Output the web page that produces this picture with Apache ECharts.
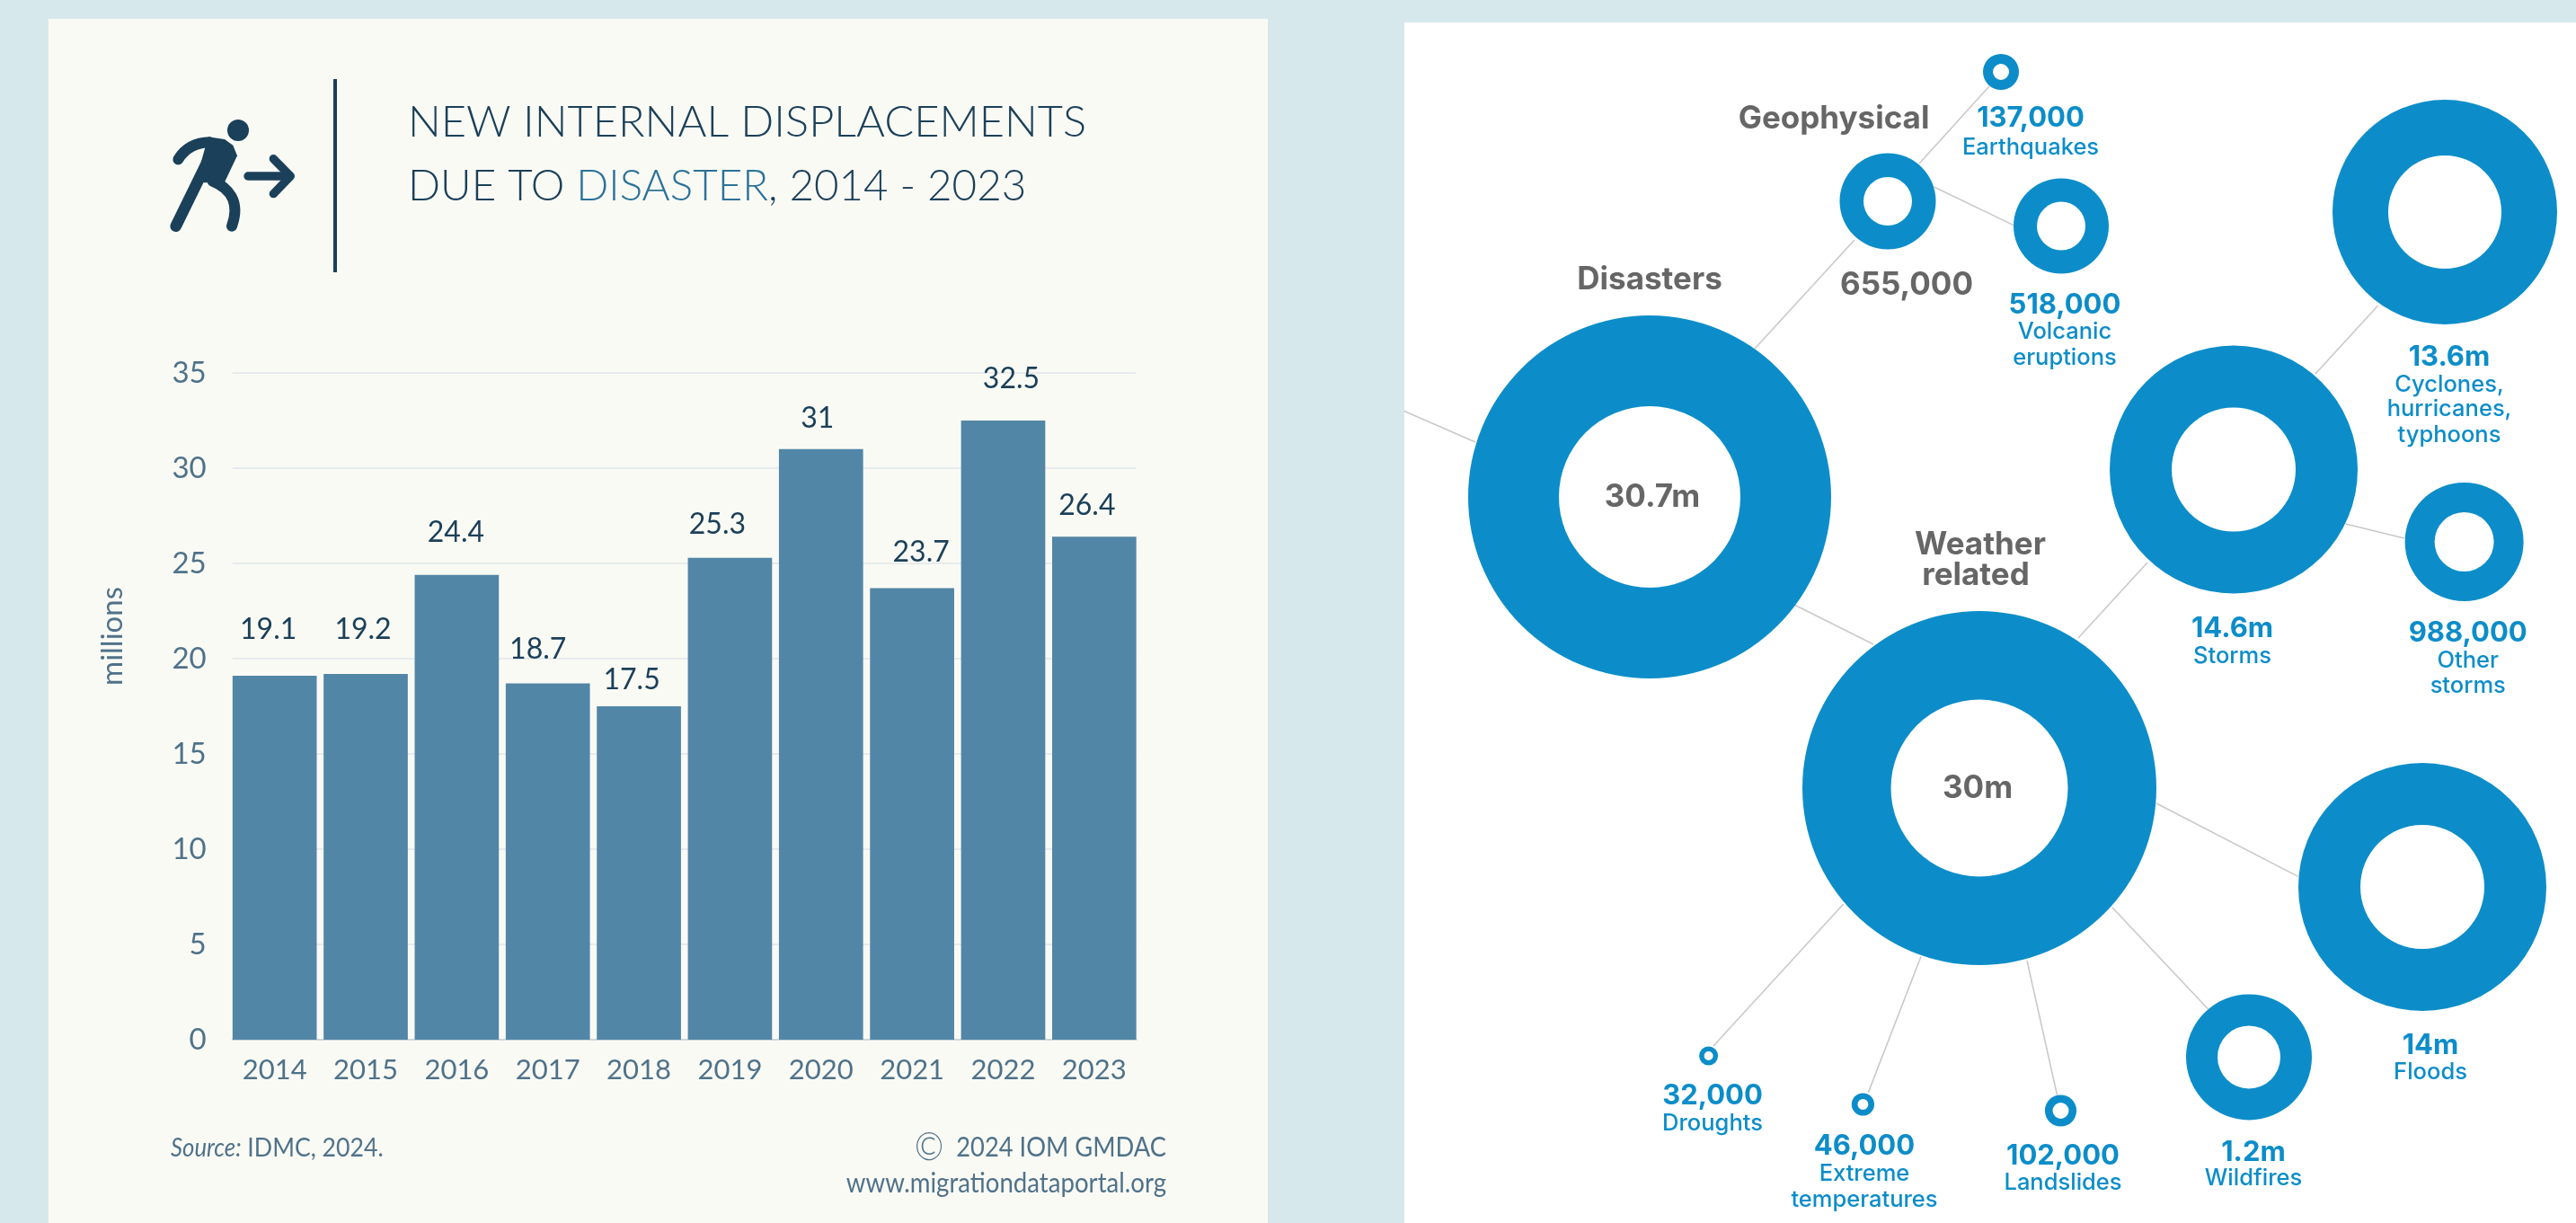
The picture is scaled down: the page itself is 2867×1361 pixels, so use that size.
<!DOCTYPE html>
<html>
<head>
<meta charset="utf-8">
<title>Internal displacements due to disaster</title>
<style>
  html, body { margin: 0; padding: 0; background: #d7e8ed; }
  #main { width: 2867px; height: 1361px; }
</style>
<script src="https://cdn.jsdelivr.net/npm/echarts@6/dist/echarts.min.js"></script>
</head>
<body>
<div id="main"></div>
<script>
// Yearly new displacements, in millions
const years = ['2014','2015','2016','2017','2018','2019','2020','2021','2022','2023'];
const displacements = [19.1, 19.2, 24.4, 18.7, 17.5, 25.3, 31, 23.7, 32.5, 26.4];
const axisTop = 35;
const axisStep = 5;

// Hand placement of each bar's value label relative to its bar
const labelShiftX = [-7, -3, -1, -11, -8, -14, -4, 10, 9, -8];
const labelGap = [51, 49, 47, 38, 29, 37, 34, 40, 46, 35];

// Breakdown by hazard type, in millions
const hazardNames = ['Disasters','Geophysical','Earthquakes','Volcanic eruptions','Weather related','Storms',
  'Cyclones, hurricanes, typhoons','Other storms','Floods','Wildfires','Landslides','Extreme temperatures','Droughts'];
const hazardValues = [30.7, 0.655, 0.137, 0.518, 30, 14.6, 13.6, 0.988, 14, 1.2, 0.102, 0.046, 0.032];

// Ring layout in page pixels: centre x, centre y, outer radius, inner radius
const ringLayout = [
  [1836, 553, 202, 101], [2101, 224, 53.5, 27], [2227, 80, 20, 9], [2294, 251.5, 53, 27],
  [2203, 877, 197, 98.5], [2486, 522.5, 138, 69], [2721, 236, 125, 63], [2742.6, 603, 66, 33],
  [2696, 987, 138, 69], [2503, 1176.4, 70, 35], [2293.5, 1236, 17.6, 9], [2073.4, 1229, 12.6, 6], [1901.6, 1175, 10.5, 5]
];

// Connector segments between the rings
const connectors = [
  [[1563, 457.5], [1642, 492]], [[1953, 388], [2064, 267]], [[2136, 182], [2214, 96]],
  [[2152.5, 208], [2241, 250.6]], [[1995, 672], [2085, 717]], [[2313, 710], [2390, 626]],
  [[2577, 416], [2646.6, 340]], [[2610.5, 583], [2676, 599]], [[2400, 894], [2557.6, 975.4]],
  [[2351, 1010], [2457.6, 1123]], [[2256, 1069], [2289.5, 1218.6]], [[2138, 1064.5], [2079.4, 1215.6]],
  [[2051.7, 1006], [1907, 1164]]
];

// Captions around the rings: text, x, y, kind
const captions = [
  ['Disasters', 1836, 311, 'head'], ['30.7m', 1839, 553, 'head'],
  ['Geophysical', 2041, 132, 'head'], ['655,000', 2122, 317, 'headBig'],
  ['137,000', 2260, 132, 'num'], ['Earthquakes', 2260, 164, 'sub'],
  ['518,000', 2298, 339.5, 'num'], ['Volcanic', 2298, 369, 'sub'], ['eruptions', 2298, 398, 'sub'],
  ['13.6m', 2726, 398, 'num'], ['Cyclones,', 2726, 428, 'sub'], ['hurricanes,', 2726, 455, 'sub'], ['typhoons', 2726, 484, 'sub'],
  ['Weather', 2204, 606, 'head'], ['related', 2199, 640, 'head'], ['30m', 2201, 877.7, 'head'],
  ['14.6m', 2484.5, 699.5, 'num'], ['Storms', 2484.5, 730, 'sub'],
  ['988,000', 2746.7, 705, 'num'], ['Other', 2746.7, 735, 'sub'], ['storms', 2746.7, 763, 'sub'],
  ['14m', 2705, 1164, 'num'], ['Floods', 2705, 1193, 'sub'],
  ['1.2m', 2508, 1283, 'num'], ['Wildfires', 2508, 1311, 'sub'],
  ['102,000', 2296, 1287, 'num'], ['Landslides', 2296, 1316, 'sub'],
  ['46,000', 2075, 1276, 'num'], ['Extreme', 2075, 1306, 'sub'], ['temperatures', 2075, 1335, 'sub'],
  ['32,000', 1906, 1219.5, 'num'], ['Droughts', 1906, 1250, 'sub']
];

const captionStyles = {
  head: { fill: '#666666', fontSize: 35, fontWeight: 700 },
  headBig: { fill: '#666666', fontSize: 35, fontWeight: 700 },
  num: { fill: '#0c8dc9', fontSize: 31, fontWeight: 700 },
  sub: { fill: '#0c8dc9', fontSize: 25.5, fontWeight: 500 }
};

const NAVY = '#1b4059';
const SLATE = '#4f7289';
const RING = '#0c8dc9';
const BAR = '#5286a6';
const LIGHT_FONT = 'Lato';
const RING_FONT = 'Inter';

const ringSeries = hazardNames.map((name, i) => ({
  type: 'pie',
  silent: true,
  animation: false,
  z: 3,
  center: [ringLayout[i][0], ringLayout[i][1]],
  radius: [ringLayout[i][3], ringLayout[i][2]],
  label: { show: false },
  labelLine: { show: false },
  itemStyle: { color: RING },
  data: [{ name, value: hazardValues[i] }]
}));

const inkStroke = width => ({ fill: null, stroke: NAVY, lineWidth: width, lineCap: 'round', lineJoin: 'round' });

const chart = echarts.init(document.getElementById('main'), null, { renderer: 'canvas' });

chart.setOption({
  backgroundColor: '#d7e8ed',
  animation: false,
  graphic: [
    { type: 'rect', z: -10, silent: true, shape: { x: 54, y: 21, width: 1357, height: 1340 }, style: { fill: '#fafaf5' } },
    { type: 'rect', z: -10, silent: true, shape: { x: 1563, y: 25, width: 1304, height: 1336 }, style: { fill: '#ffffff' } },
    { type: 'rect', silent: true, shape: { x: 371, y: 88, width: 4, height: 215 }, style: { fill: NAVY } },
    // Running figure with an arrow
    {
      type: 'group', x: 170, y: 120, scaleX: 1 / 3, scaleY: 1 / 3, silent: true,
      children: [
        { type: 'circle', shape: { cx: 285, cy: 75, r: 36 }, style: { fill: NAVY } },
        { type: 'polygon', shape: { points: [[185, 97], [240, 105], [268, 125], [282, 160], [240, 248], [172, 250], [145, 240]] }, style: { fill: NAVY } },
        { type: 'bezierCurve', shape: { x1: 85, y1: 172, cpx1: 105, cpy1: 140, cpx2: 135, cpy2: 116, x2: 190, y2: 115 }, style: inkStroke(36) },
        { type: 'line', shape: { x1: 77, y1: 395, x2: 185, y2: 175 }, style: inkStroke(38) },
        { type: 'bezierCurve', shape: { x1: 200, y1: 245, cpx1: 250, cpy1: 265, cpx2: 295, cpy2: 310, x2: 264, y2: 395 }, style: inkStroke(36) },
        { type: 'line', shape: { x1: 318, y1: 228, x2: 450, y2: 228 }, style: inkStroke(28) },
        { type: 'polyline', shape: { points: [[403, 170], [460, 228], [403, 287]] }, style: inkStroke(28) }
      ]
    },
    {
      type: 'text', silent: true, x: 454, y: 137, scaleX: 1.016,
      style: { text: 'NEW INTERNAL DISPLACEMENTS', verticalAlign: 'middle', fill: NAVY, fontFamily: LIGHT_FONT, fontWeight: 300, fontSize: 48 }
    },
    {
      type: 'text', silent: true, x: 454, y: 208, scaleX: 0.99,
      style: {
        text: 'DUE TO {hi|DISASTER}, 2014 - 2023', verticalAlign: 'middle', fill: NAVY,
        fontFamily: LIGHT_FONT, fontWeight: 300, fontSize: 48,
        rich: { hi: { fill: '#2b7299', fontFamily: LIGHT_FONT, fontWeight: 300, fontSize: 48 } }
      }
    },
    {
      type: 'text', silent: true, x: 125, y: 708, rotation: Math.PI / 2,
      style: { text: 'millions', align: 'center', verticalAlign: 'middle', fill: SLATE, fontFamily: LIGHT_FONT, fontWeight: 400, fontSize: 33 }
    },
    {
      type: 'text', silent: true, x: 190, y: 1278, scaleX: 0.92,
      style: {
        text: '{it|Source:} IDMC, 2024.', verticalAlign: 'middle', fill: SLATE,
        fontFamily: LIGHT_FONT, fontWeight: 400, fontSize: 29,
        rich: { it: { fill: SLATE, fontFamily: LIGHT_FONT, fontStyle: 'italic', fontWeight: 400, fontSize: 28 } }
      }
    },
    {
      type: 'text', silent: true, x: 1298, y: 1277, scaleX: 0.88,
      style: {
        text: '{c|©}  2024 IOM GMDAC', align: 'right', verticalAlign: 'middle', fill: SLATE,
        fontFamily: LIGHT_FONT, fontWeight: 400, fontSize: 31,
        rich: { c: { fill: SLATE, fontFamily: LIGHT_FONT, fontWeight: 300, fontSize: 44 } }
      }
    },
    {
      type: 'text', silent: true, x: 1298, y: 1317, scaleX: 0.92,
      style: { text: 'www.migrationdataportal.org', align: 'right', verticalAlign: 'middle', fill: SLATE, fontFamily: LIGHT_FONT, fontWeight: 400, fontSize: 30 }
    }
  ].concat(captions.map(([text, x, y, kind]) => ({
    type: 'text', silent: true, z: 20,
    style: Object.assign({ text, x, y, align: 'center', verticalAlign: 'middle', fontFamily: RING_FONT }, captionStyles[kind])
  }))),
  grid: [
    { left: 258.7, width: 1006, top: 415, height: 742 },
    { left: 255, width: 1013.5, top: 415, height: 742 },
    { left: 0, top: 0, width: 2867, height: 1361 }
  ],
  xAxis: [
    {
      gridIndex: 0, type: 'category', data: years,
      axisLine: { show: true, lineStyle: { color: '#ced6da', width: 2 } },
      axisTick: { show: false }, axisLabel: { show: false }
    },
    {
      gridIndex: 1, type: 'category', data: years,
      axisLine: { show: false }, axisTick: { show: false },
      axisLabel: { color: SLATE, fontFamily: LIGHT_FONT, fontWeight: 400, fontSize: 31, margin: 18 }
    },
    { gridIndex: 2, type: 'value', min: 0, max: 2867, show: false }
  ],
  yAxis: [
    {
      gridIndex: 0, type: 'value', min: 0, max: axisTop, interval: axisStep,
      axisLine: { show: false }, axisTick: { show: false },
      splitLine: { lineStyle: { color: '#e0e6ea', width: 1.5 } },
      axisLabel: { color: SLATE, fontFamily: LIGHT_FONT, fontWeight: 400, fontSize: 33, margin: 29 }
    },
    { gridIndex: 1, type: 'value', min: 0, max: axisTop, interval: axisStep, show: false },
    { gridIndex: 2, type: 'value', min: 0, max: 1361, inverse: true, show: false }
  ],
  series: [
    {
      type: 'bar', xAxisIndex: 1, yAxisIndex: 1, barWidth: 93.7, silent: true,
      itemStyle: { color: BAR },
      data: displacements.map((value, i) => ({
        value,
        label: {
          show: true, position: 'top', distance: 0,
          offset: [labelShiftX[i], -(labelGap[i] - 16)],
          lineHeight: 32, color: NAVY, fontFamily: LIGHT_FONT, fontWeight: 400, fontSize: 32
        }
      }))
    },
    {
      type: 'lines', coordinateSystem: 'cartesian2d', xAxisIndex: 2, yAxisIndex: 2, silent: true, z: 2,
      lineStyle: { color: '#c9c9c9', width: 1.6, opacity: 1 },
      data: connectors.map(coords => ({ coords }))
    }
  ].concat(ringSeries)
});
</script>
</body>
</html>
